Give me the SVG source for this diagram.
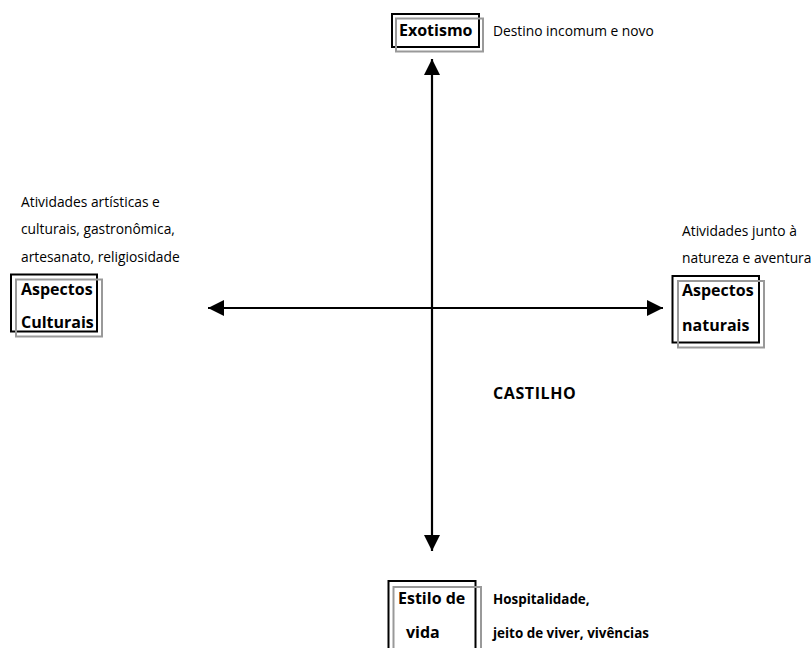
<svg xmlns="http://www.w3.org/2000/svg" width="812" height="648" viewBox="0 0 812 648">
<defs>
<style>
.bk{fill:none;stroke:#000;stroke-width:2}
.gr{fill:none;stroke:#999;stroke-width:2}
.t{font-family:"Open Sans","Noto Sans",sans-serif;font-size:13.8px;fill:#000}
.b{font-family:"Open Sans","Noto Sans",sans-serif;font-size:16px;font-weight:bold;fill:#000}
.s{font-family:"Open Sans","Noto Sans",sans-serif;font-size:13.4px;font-weight:bold;fill:#000}
.ax{stroke:#000;stroke-width:2.2;fill:none}
</style>
<marker id="ah" viewBox="0 0 16 16" refX="16" refY="8" markerWidth="16" markerHeight="16" markerUnits="userSpaceOnUse" orient="auto">
<path d="M0,0 L16,8 L0,16 Z" fill="#000"/>
</marker>
</defs>
<rect width="812" height="648" fill="#fff"/>
<g id="connectors">
<line class="ax" x1="432" y1="308" x2="432" y2="59" marker-end="url(#ah)"/>
<line class="ax" x1="432" y1="308" x2="432" y2="551" marker-end="url(#ah)"/>
<line class="ax" x1="432" y1="308" x2="208" y2="308" marker-end="url(#ah)"/>
<line class="ax" x1="432" y1="308" x2="663" y2="308" marker-end="url(#ah)"/>
</g>
<g id="exotismo">
<rect class="bk" x="392" y="14" width="87" height="33"/>
<rect class="gr" x="396" y="18.5" width="87" height="33"/>
<text class="b" x="399" y="36">Exotismo</text>
<text class="t" x="493" y="36">Destino incomum e novo</text>
</g>
<g id="culturais">
<text class="t" x="21" y="207">Atividades artísticas e</text>
<text class="t" x="21" y="234">culturais, gastronômica,</text>
<text class="t" x="21" y="262">artesanato, religiosidade</text>
<rect class="bk" x="11" y="274.5" width="86" height="57"/>
<rect class="gr" x="16" y="279.5" width="86" height="57"/>
<text class="b" x="21" y="295">Aspectos</text>
<text class="b" x="21" y="328">Culturais</text>
</g>
<g id="naturais">
<text class="t" x="682" y="236">Atividades junto à</text>
<text class="t" x="682" y="263">natureza e aventura</text>
<rect class="bk" x="672.5" y="276" width="86.5" height="66.5"/>
<rect class="gr" x="678" y="281" width="86" height="66.5"/>
<text class="b" x="682" y="296">Aspectos</text>
<text class="b" x="682" y="331">naturais</text>
</g>
<g id="estilo">
<rect class="bk" x="388.5" y="581" width="87" height="80"/>
<rect class="gr" x="393.5" y="587" width="87.5" height="80"/>
<text class="b" x="398" y="604">Estilo de</text>
<text class="b" x="406" y="638">vida</text>
<text class="s" x="493" y="604">Hospitalidade,</text>
<text class="s" x="493" y="638">jeito de viver, vivências</text>
</g>
<g id="castilho">
<text class="b" x="493" y="399" style="letter-spacing:0.6px">CASTILHO</text>
</g>
</svg>
